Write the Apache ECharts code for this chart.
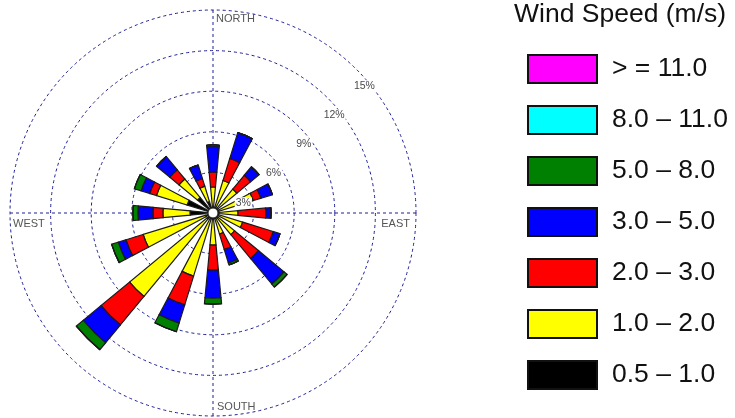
<!DOCTYPE html>
<html>
<head>
<meta charset="utf-8">
<script src="https://cdn.jsdelivr.net/npm/echarts@6/dist/echarts.min.js"></script>
<style>
  html, body { margin: 0; padding: 0; background: #ffffff; }
  #chart { width: 735px; height: 418px; }
</style>
</head>
<body>
<div id="chart"></div>
<script>
// Wind directions, clockwise from north
const directions = ['N', 'NNE', 'NE', 'ENE', 'E', 'ESE', 'SE', 'SSE',
                    'S', 'SSW', 'SW', 'WSW', 'W', 'WNW', 'NW', 'NNW'];

// Speed classes (m/s), from the centre outwards
const speedClasses = ['0.5 – 1.0', '1.0 – 2.0', '2.0 – 3.0', '3.0 – 5.0',
                      '5.0 – 8.0', '8.0 – 11.0', '> = 11.0'];

// Frequency (%) of each speed class per direction
const freq05to1  = [0.44, 0.44, 0.44, 0.44, 0.44, 0.44, 0.44, 0.44, 0.44, 0.44, 0.59, 0.59, 1.70, 2.00, 1.48, 0.89];
const freq1to2   = [1.48, 2.07, 1.85, 2.67, 1.41, 1.85, 1.63, 1.19, 1.93, 4.44, 7.41, 4.81, 2.00, 2.37, 1.78, 1.19];
const freq2to3   = [1.11, 1.70, 1.33, 0.59, 2.07, 2.37, 2.30, 1.19, 1.85, 2.22, 2.74, 1.33, 0.74, 0.52, 0.89, 0.59];
const freq3to5   = [1.93, 2.00, 0.81, 0.89, 0.37, 0.52, 2.44, 1.04, 2.07, 1.41, 1.70, 0.59, 1.11, 0.67, 1.26, 1.04];
const freq5to8   = [0.07, 0.00, 0.00, 0.00, 0.00, 0.00, 0.30, 0.15, 0.44, 0.67, 0.67, 0.52, 0.37, 0.52, 0.00, 0.00];
const freq8to11  = [0, 0, 0, 0, 0, 0, 0, 0, 0, 0, 0, 0, 0, 0, 0, 0];
const freqAbove11 = [0, 0, 0, 0, 0, 0, 0, 0, 0, 0, 0, 0, 0, 0, 0, 0];

const classColors = ['#000000', '#ffff00', '#ff0000', '#0000ff', '#008000', '#00ffff', '#ff00ff'];
const classData = [freq05to1, freq1to2, freq2to3, freq3to5, freq5to8, freq8to11, freqAbove11];

// Ring scale (%)
const ringMax = 15;
const ringStep = 3;

const FONT = '"Liberation Sans", Arial, sans-serif';
const GRID = '#1f1f96';
const CX = 213, CY = 213, R = 203;

const chart = echarts.init(document.getElementById('chart'), null, { renderer: 'canvas' });

const series = speedClasses.map((name, i) => ({
  type: 'bar',
  name: name,
  coordinateSystem: 'polar',
  polarIndex: 0,
  stack: 'wind',
  barWidth: '48%',
  data: classData[i],
  silent: true,
  itemStyle: { color: classColors[i], borderColor: '#1a1a1a', borderWidth: 1.2 }
}));

const compassStyle = { fill: '#555', fontSize: 11, fontFamily: FONT };

chart.setOption({
  animation: false,
  backgroundColor: '#ffffff',
  title: {
    text: 'Wind Speed (m/s)',
    left: 514,
    top: 1,
    padding: 0,
    textStyle: { fontSize: 26.5, fontWeight: 'normal', color: '#111', fontFamily: FONT }
  },
  legend: {
    data: speedClasses.slice().reverse(),
    orient: 'vertical',
    left: 527,
    top: 54,
    padding: 0,
    icon: 'rect',
    itemWidth: 69,
    itemHeight: 28,
    itemGap: 21,
    selectedMode: false,
    itemStyle: { borderColor: '#111', borderWidth: 2 },
    textStyle: { fontSize: 26.5, color: '#111', fontFamily: FONT, padding: [0, 0, 0, 10] }
  },
  polar: [
    { center: [CX, CY], radius: R },
    { center: [CX, CY], radius: R },
    { center: [CX, CY + 19], radius: 210.5 }
  ],
  angleAxis: [
    {
      polarIndex: 0, type: 'category', data: directions,
      startAngle: 90 + 180 / directions.length, clockwise: true,
      axisLine: { show: false }, axisTick: { show: false },
      axisLabel: { show: false }, splitLine: { show: false }
    },
    {
      polarIndex: 1, type: 'value', min: 0, max: 360, interval: 90,
      startAngle: 90, clockwise: true,
      axisLine: { show: false }, axisTick: { show: false }, axisLabel: { show: false },
      splitLine: { show: true, lineStyle: { color: GRID, width: 1, type: [3, 3] } }
    },
    {
      polarIndex: 2, type: 'value', min: 0, max: 360, startAngle: 44, show: false
    }
  ],
  radiusAxis: [
    {
      polarIndex: 0, type: 'value', min: 0, max: ringMax, interval: ringStep,
      axisLine: { show: false }, axisTick: { show: false }, axisLabel: { show: false },
      splitLine: { show: true, lineStyle: { color: GRID, width: 1, type: [3, 3] } }
    },
    { polarIndex: 1, type: 'value', min: 0, max: ringMax, show: false },
    {
      polarIndex: 2, type: 'value', min: 0, max: ringMax, interval: ringStep, z: 5,
      axisLine: { show: false }, axisTick: { show: false }, splitLine: { show: false },
      axisLabel: {
        show: true, margin: 0, showMinLabel: false,
        align: 'center', verticalAlign: 'middle',
        formatter: '{value}%', fontSize: 10.5, color: '#4a4a4a', fontFamily: FONT,
        backgroundColor: '#ffffff', padding: [0, 1]
      }
    }
  ],
  graphic: [
    { type: 'circle', z: 100, shape: { cx: CX, cy: CY, r: 5 },
      style: { fill: '#ffffff', stroke: '#222', lineWidth: 1 } },
    { type: 'text', z: 100, x: CX + 3, y: CY - R + 3,
      style: Object.assign({ text: 'NORTH', align: 'left', verticalAlign: 'top' }, compassStyle) },
    { type: 'text', z: 100, x: CX + R - 6, y: CY + 5,
      style: Object.assign({ text: 'EAST', align: 'right', verticalAlign: 'top' }, compassStyle) },
    { type: 'text', z: 100, x: CX + 4, y: CY + R - 4,
      style: Object.assign({ text: 'SOUTH', align: 'left', verticalAlign: 'bottom' }, compassStyle) },
    { type: 'text', z: 100, x: CX - R + 3, y: CY + 5,
      style: Object.assign({ text: 'WEST', align: 'left', verticalAlign: 'top' }, compassStyle) }
  ],
  series: series
});
</script>
</body>
</html>
